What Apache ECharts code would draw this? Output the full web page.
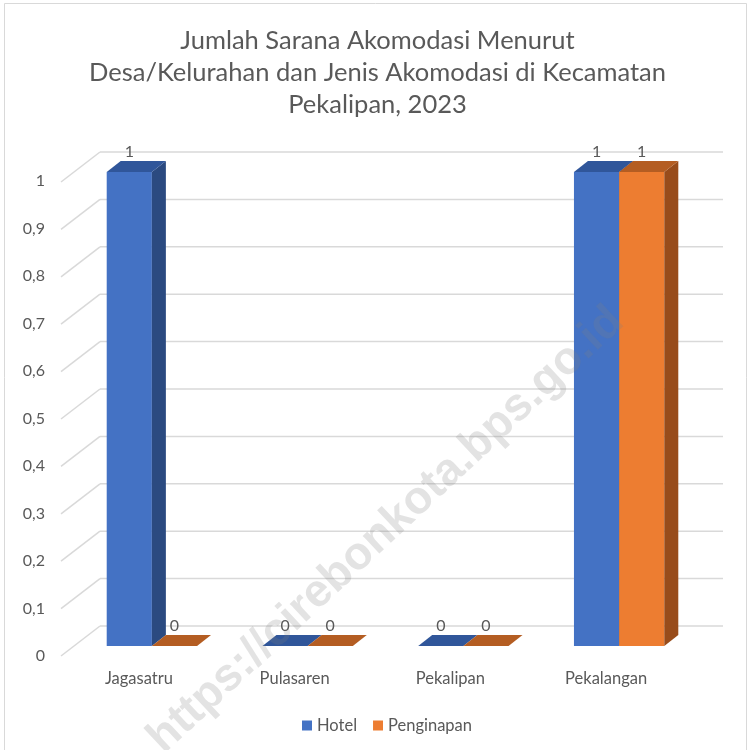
<!DOCTYPE html>
<html>
<head>
<meta charset="utf-8">
<script src="https://cdn.jsdelivr.net/npm/echarts@6/dist/echarts.min.js"></script>
<style>
html, body { margin: 0; padding: 0; background: #fff; }
#chart { width: 755px; height: 750px; }
</style>
</head>
<body>
<div id="chart"></div>
<script>
// data
const categories = ['Jagasatru', 'Pulasaren', 'Pekalipan', 'Pekalangan'];
const hotel = [1, 0, 0, 1];
const penginapan = [0, 0, 0, 1];
const yTicks = [0, 0.1, 0.2, 0.3, 0.4, 0.5, 0.6, 0.7, 0.8, 0.9, 1];
const titleLines = [
  'Jumlah Sarana Akomodasi Menurut',
  'Desa/Kelurahan dan Jenis Akomodasi di Kecamatan',
  'Pekalipan, 2023'
];

const FONT = 'Lato';
const TEXT_COLOR = '#595959';
const GRID_COLOR = '#d9d9d9';

// fake 3d offsets (pixels)
const BAR_DX = 14, BAR_DY = -11;
const WALL_DX = 26, WALL_DY = -20;
const FLOOR_DX = -13, FLOOR_DY = 10;
const BAR_RATIO = 0.29;

const palette = [
  { front: '#4472C4', top: '#30569A', side: '#2B4A80' },
  { front: '#ED7D31', top: '#B45D22', side: '#984C1B' }
];

function renderWall(params, api) {
  const cs = params.coordSys;
  const y = api.coord([0, api.value(1)])[1];
  const style = { stroke: GRID_COLOR, lineWidth: 1.5 };
  return {
    type: 'group',
    children: [
      { type: 'line', shape: { x1: cs.x + WALL_DX, y1: y + WALL_DY, x2: cs.x + cs.width + WALL_DX, y2: y + WALL_DY }, style: style },
      { type: 'line', shape: { x1: cs.x + FLOOR_DX, y1: y + FLOOR_DY, x2: cs.x + WALL_DX, y2: y + WALL_DY }, style: style }
    ]
  };
}

function renderBar(params, api) {
  const s = params.seriesIndex - 1;
  const c = palette[s];
  const cat = api.value(0), val = api.value(1);
  const bw = api.size([1, 0])[0] * BAR_RATIO;
  const base = api.coord([cat, 0]);
  const top = api.coord([cat, val]);
  const x0 = base[0] + (s === 0 ? -bw : 0);
  const x1 = x0 + bw;
  const yB = base[1], yT = top[1];
  const children = [];
  if (yB - yT > 0) {
    children.push({ type: 'rect', shape: { x: x0, y: yT, width: bw, height: yB - yT }, style: { fill: c.front } });
    children.push({ type: 'polygon', shape: { points: [[x1, yT], [x1 + BAR_DX, yT + BAR_DY], [x1 + BAR_DX, yB + BAR_DY], [x1, yB]] }, style: { fill: c.side } });
  }
  children.push({ type: 'polygon', shape: { points: [[x0, yT], [x0 + BAR_DX, yT + BAR_DY], [x1 + BAR_DX, yT + BAR_DY], [x1, yT]] }, style: { fill: c.top } });
  children.push({
    type: 'text',
    style: { x: x0 + bw / 2, y: yT - 20, text: String(val), align: 'center', verticalAlign: 'middle', fill: TEXT_COLOR, font: '16px ' + FONT }
  });
  return { type: 'group', children: children };
}

const chart = echarts.init(document.getElementById('chart'));
chart.setOption({
  animation: false,
  backgroundColor: '#fff',
  title: {
    text: titleLines.join('\n'),
    left: 'center',
    top: 20,
    textStyle: { fontFamily: FONT, fontSize: 25.5, fontWeight: 'normal', color: TEXT_COLOR, lineHeight: 32 }
  },
  legend: {
    data: ['Hotel', 'Penginapan'],
    top: 712,
    left: 297,
    icon: 'rect',
    itemWidth: 10,
    itemHeight: 10,
    itemGap: 16,
    textStyle: { fontFamily: FONT, fontSize: 16.5, color: TEXT_COLOR }
  },
  grid: [
    // bar front plane
    { left: 74, right: 58, top: 172, bottom: 104 },
    // floor front plane (axis labels)
    { left: 61, right: 71, top: 181, bottom: 94 }
  ],
  xAxis: [
    { gridIndex: 0, type: 'category', data: categories, show: false },
    {
      gridIndex: 1, type: 'category', data: categories,
      axisLine: { show: false }, axisTick: { show: false },
      axisLabel: { color: TEXT_COLOR, fontFamily: FONT, fontSize: 16.5, margin: 14 }
    }
  ],
  yAxis: [
    { gridIndex: 0, type: 'value', min: 0, max: 1, interval: 0.1, show: false },
    {
      gridIndex: 1, type: 'value', min: 0, max: 1, interval: 0.1,
      axisLine: { show: false }, axisTick: { show: false }, splitLine: { show: false },
      axisLabel: {
        color: TEXT_COLOR, fontFamily: FONT, fontSize: 16, margin: 16,
        formatter: function (v) { return String(Math.round(v * 10) / 10).replace('.', ','); }
      }
    }
  ],
  series: [
    {
      type: 'custom', name: 'wall', xAxisIndex: 0, yAxisIndex: 0, silent: true,
      renderItem: renderWall,
      data: yTicks.map(function (v) { return [0, v]; }),
      z: 1
    },
    {
      type: 'custom', name: 'Hotel', xAxisIndex: 0, yAxisIndex: 0,
      itemStyle: { color: palette[0].front },
      renderItem: renderBar,
      encode: { x: 0, y: 1 },
      data: hotel.map(function (v, i) { return [i, v]; }),
      z: 2
    },
    {
      type: 'custom', name: 'Penginapan', xAxisIndex: 0, yAxisIndex: 0,
      itemStyle: { color: palette[1].front },
      renderItem: renderBar,
      encode: { x: 0, y: 1 },
      data: penginapan.map(function (v, i) { return [i, v]; }),
      z: 3
    }
  ],
  graphic: [
    {
      type: 'rect', shape: { x: 4.5, y: 3.5, width: 742, height: 800 },
      style: { fill: 'none', stroke: GRID_COLOR, lineWidth: 1 }, z: 0, silent: true
    },
    {
      type: 'text', x: 386, y: 530, rotation: Math.PI * 43 / 180, z: 100, silent: true,
      style: {
        text: 'https://cirebonkota.bps.go.id', align: 'center', verticalAlign: 'middle',
        font: 'bold 46px "Liberation Sans"', fill: 'rgba(128,128,128,0.22)'
      }
    }
  ]
});
</script>
</body>
</html>
